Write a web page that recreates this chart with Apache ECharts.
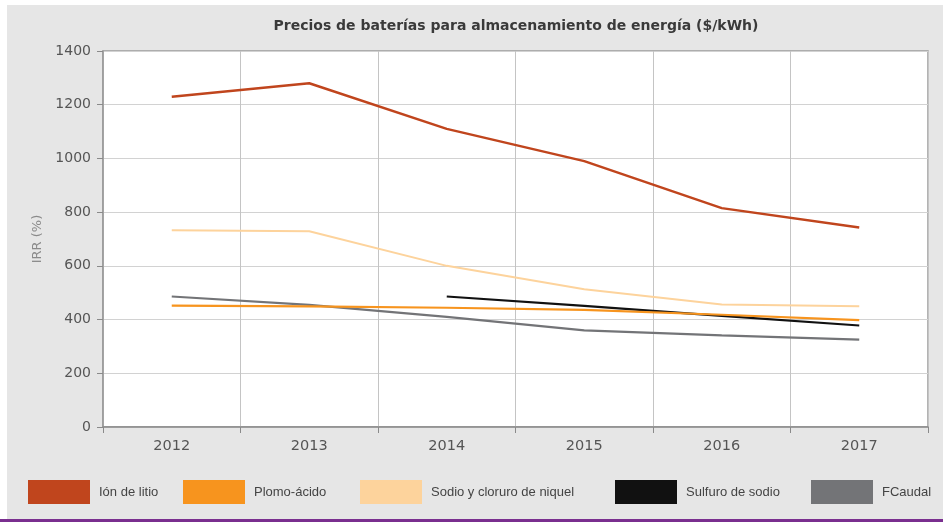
<!DOCTYPE html>
<html>
<head>
<meta charset="utf-8">
<script src="https://cdn.jsdelivr.net/npm/echarts@6/dist/echarts.min.js"></script>
<style>html,body{margin:0;padding:0;background:#fff;}#c{width:943px;height:525px;}</style>
</head>
<body>
<div id="c"></div>
<script>
const years = ['2012', '2013', '2014', '2015', '2016', '2017'];
const ionLitio = [1230, 1280, 1110, 990, 815, 743];
const plomoAcido = [452, 449, 444, 436, 418, 398];
const sodioNiquel = [733, 729, 600, 513, 456, 450];
const sulfuroSodio = [null, null, 486, 451, 414, 378];
const fCaudal = [486, 455, 410, 360, 341, 325];
const yTicks = [0, 200, 400, 600, 800, 1000, 1200, 1400];

const names = ['Ión de litio', 'Plomo-ácido', 'Sodio y cloruro de niquel', 'Sulfuro de sodio', 'FCaudal'];
const colors = ['#c0451d', '#f7941e', '#fdd39c', '#111111', '#737477'];
const seriesData = [ionLitio, plomoAcido, sodioNiquel, sulfuroSodio, fCaudal];
const widths = [2.5, 2.2, 2, 2.2, 2.2];
const legendLeft = [28, 183, 360, 615, 811];

const chart = echarts.init(document.getElementById('c'));
const sans = '"DejaVu Sans", "Liberation Sans", sans-serif';
const legendFont = '"Liberation Sans Narrow", "Liberation Sans", Arial, sans-serif';
chart.setOption({
  animation: false,
  backgroundColor: '#ffffff',
  graphic: [
    { type: 'rect', z: -10, shape: { x: 7, y: 5, width: 936, height: 514 }, style: { fill: '#e6e6e6' } },
    { type: 'rect', z: -10, shape: { x: 0, y: 519, width: 943, height: 3 }, style: { fill: '#7a2f8f' } }
  ],
  title: {
    text: 'Precios de baterías para almacenamiento de energía ($/kWh)',
    left: 516, top: 19, textAlign: 'center', padding: 0,
    textStyle: { fontFamily: sans, fontSize: 14, fontWeight: 'bold', color: '#3a3a3a' }
  },
  legend: names.map((n, i) => ({
    data: [n], left: legendLeft[i], top: 480, padding: 0,
    icon: 'rect', itemWidth: 62, itemHeight: 24, itemGap: 0,
    selectedMode: false,
    textStyle: { fontFamily: legendFont, fontSize: 13, color: '#444', padding: [0, 0, 0, 4] }
  })),
  grid: {
    left: 103, right: 15, top: 51, bottom: 98,
    show: true, backgroundColor: '#ffffff', borderColor: '#9a9a9a', borderWidth: 1.5
  },
  xAxis: {
    type: 'category', data: years, boundaryGap: true,
    axisLine: { lineStyle: { color: '#8a8a8a', width: 1.5 } },
    axisTick: { show: true, length: 6, lineStyle: { color: '#8a8a8a' } },
    axisLabel: { fontFamily: sans, fontSize: 14.5, color: '#555', margin: 12 },
    splitLine: { show: true, lineStyle: { color: '#c4c4c4', width: 1 } }
  },
  yAxis: {
    type: 'value', min: 0, max: 1400, interval: 200,
    name: 'IRR (%)', nameLocation: 'middle', nameGap: 59,
    nameTextStyle: { fontFamily: sans, fontSize: 13, color: '#8a8a8a' },
    axisLine: { show: true, lineStyle: { color: '#9a9a9a', width: 1.5 } },
    axisTick: { show: true, length: 6, lineStyle: { color: '#8a8a8a' } },
    axisLabel: {
      fontFamily: sans, fontSize: 14, color: '#555', margin: 12,
      formatter: v => yTicks.includes(v) ? String(v) : ''
    },
    splitLine: { show: true, lineStyle: { color: '#d2d2d2', width: 1 } }
  },
  series: names.map((n, i) => ({
    name: n, type: 'line', data: seriesData[i],
    symbol: 'none', smooth: false, connectNulls: false,
    itemStyle: { color: colors[i] },
    lineStyle: { color: colors[i], width: widths[i] },
    z: 10 - i
  }))
});
</script>
</body>
</html>
